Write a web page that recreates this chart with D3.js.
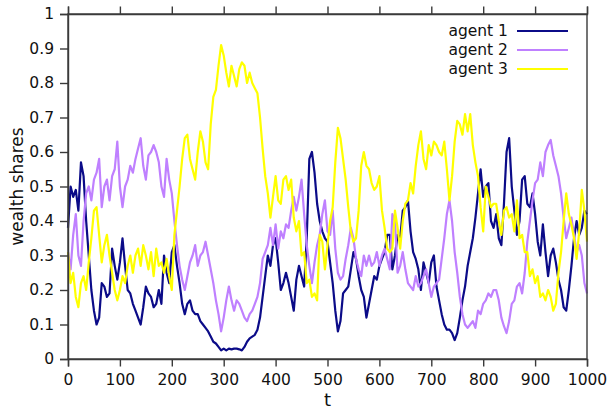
<!DOCTYPE html>
<html>
<head>
<meta charset="utf-8">
<script src="https://cdn.jsdelivr.net/npm/d3@7"></script>
<style>
  html, body { margin: 0; padding: 0; background: #fff; }
  svg { display: block; font-family: "DejaVu Sans", sans-serif; }
</style>
</head>
<body>
<svg id="chart" width="610" height="411"></svg>
<script>
// sampling step of the time axis (t = 0, 5, 10, ... 1000)
const tStep = 5;
const seriesNames = ["agent 1", "agent 2", "agent 3"];
const seriesColors = ["#0b0b88", "#bf80ff", "#ffff00"];
const xTicks = [0, 100, 200, 300, 400, 500, 600, 700, 800, 900, 1000];
const yTicks = [0, 0.1, 0.2, 0.3, 0.4, 0.5, 0.6, 0.7, 0.8, 0.9, 1];

const agent1 = [
 .38,.50,.47,.49,.43,.57,.53,.40,.30,.20, .14,.10,.12,.22,.21,.18,.19,.32,.27,.23,
 .28,.35,.27,.20,.19,.16,.14,.12,.10,.15, .21,.19,.18,.15,.16,.20,.16,.30,.25,.22,
 .31,.33,.27,.22,.16,.13,.16,.17,.14,.13, .13,.11,.10,.09,.08,.065,.05,.045,.035,.025,
 .03,.025,.03,.028,.03,.03,.028,.025,.035,.05, .06,.065,.07,.085,.12,.18,.24,.30,.27,.33,
 .35,.28,.20,.22,.25,.22,.18,.14,.23,.27, .24,.21,.35,.58,.60,.54,.45,.40,.37,.35,
 .34,.28,.22,.14,.08,.11,.19,.20,.21,.26, .31,.29,.24,.20,.18,.12,.16,.20,.24,.23,
 .27,.29,.31,.36,.36,.26,.30,.36,.35,.43, .44,.46,.37,.31,.29,.26,.20,.28,.25,.22,
 .28,.30,.21,.17,.13,.10,.085,.085,.075,.055, .075,.12,.17,.21,.27,.31,.35,.41,.48,.55,
 .47,.50,.51,.40,.38,.42,.35,.33,.45,.60, .64,.50,.43,.36,.40,.52,.53,.45,.44,.48,
 .42,.34,.30,.39,.31,.24,.30,.32,.28,.23, .20,.15,.14,.20,.27,.35,.40,.36,.38,.43,
 .42
];
const agent2 = [
 .31,.26,.36,.42,.30,.27,.40,.48,.50,.46, .52,.54,.58,.44,.50,.52,.46,.53,.55,.63,
 .50,.44,.50,.52,.56,.54,.58,.61,.64,.56, .52,.59,.60,.62,.60,.57,.50,.47,.58,.52,
 .48,.40,.33,.27,.23,.20,.24,.28,.30,.33, .27,.30,.31,.34,.30,.26,.22,.17,.13,.08,
 .12,.17,.21,.17,.14,.17,.16,.14,.12,.11, .13,.14,.16,.18,.22,.29,.31,.33,.38,.33,
 .39,.32,.37,.35,.39,.38,.43,.47,.43,.47, .52,.42,.33,.27,.22,.28,.33,.36,.42,.46,
 .37,.36,.43,.32,.25,.23,.24,.29,.33,.38, .35,.29,.26,.24,.30,.27,.30,.27,.28,.31,
 .27,.30,.32,.29,.26,.42,.40,.25,.27,.31, .26,.22,.21,.20,.24,.21,.22,.24,.26,.22,
 .18,.21,.22,.23,.29,.35,.42,.46,.40,.31, .25,.18,.13,.10,.09,.10,.11,.09,.14,.13,
 .16,.17,.19,.18,.20,.20,.17,.12,.095,.075, .11,.16,.17,.21,.22,.19,.25,.34,.40,.46,
 .51,.52,.57,.53,.60,.62,.635,.59,.56,.53, .48,.41,.35,.38,.41,.36,.31,.33,.30,.22,
 .19
];
const agent3 = [
 .31,.22,.25,.18,.15,.22,.24,.20,.28,.35, .43,.44,.36,.28,.33,.36,.30,.25,.20,.17,
 .20,.24,.22,.27,.30,.25,.30,.32,.27,.33, .30,.26,.31,.24,.32,.27,.28,.25,.29,.24,
 .20,.36,.43,.50,.58,.64,.65,.58,.55,.52, .60,.66,.63,.57,.55,.68,.76,.78,.85,.91,
 .88,.83,.79,.85,.82,.79,.84,.86,.85,.80, .83,.80,.785,.77,.70,.61,.53,.48,.41,.47,
 .53,.46,.45,.52,.53,.49,.52,.41,.37,.40, .30,.31,.22,.23,.18,.19,.17,.36,.34,.26,
 .33,.40,.44,.57,.67,.64,.58,.52,.44,.37, .34,.35,.43,.56,.60,.56,.55,.51,.49,.50,
 .53,.43,.38,.32,.31,.32,.43,.38,.32,.40, .45,.46,.51,.48,.56,.62,.66,.58,.55,.62,
 .59,.63,.62,.60,.59,.63,.55,.46,.53,.63, .69,.68,.65,.71,.66,.71,.62,.57,.53,.44,
 .37,.50,.47,.44,.45,.45,.40,.36,.43,.44, .41,.42,.37,.46,.35,.36,.31,.31,.24,.26,
 .22,.24,.18,.19,.17,.20,.18,.14,.16,.25, .31,.40,.48,.42,.39,.35,.29,.37,.49,.43,
 .34
];

const svg = d3.select("#chart");
const margin = { left: 68, right: 23, top: 14, bottom: 52 };
const W = 610, H = 411;
const x = d3.scaleLinear().domain([0, 1000]).range([margin.left, W - margin.right]);
const y = d3.scaleLinear().domain([0, 1]).range([H - margin.bottom, margin.top]);

const axisColor = "#3a3a3a";

// lines
const line = d3.line()
  .x((d, i) => x(i * tStep))
  .y(d => y(d));

const allSeries = [agent1, agent2, agent3];
svg.append("g").selectAll("path").data(allSeries).join("path")
  .attr("d", d => line(d))
  .attr("fill", "none")
  .attr("stroke", (d, i) => seriesColors[i])
  .attr("stroke-width", 2.2)
  .attr("stroke-linejoin", "round");

// frame
svg.append("rect")
  .attr("x", x(0)).attr("y", y(1))
  .attr("width", x(1000) - x(0)).attr("height", y(0) - y(1))
  .attr("fill", "none").attr("stroke", axisColor).attr("stroke-width", 1.4);

// bottom axis
const xAxis = svg.append("g")
  .attr("transform", `translate(0,${y(0)})`)
  .call(d3.axisBottom(x).tickValues(xTicks).tickSize(7.5).tickPadding(7).tickFormat(d3.format("d")));
// top ticks (outward, no labels)
const xTop = svg.append("g")
  .attr("transform", `translate(0,${y(1)})`)
  .call(d3.axisTop(x).tickValues(xTicks).tickSize(7.5).tickFormat(""));
// left axis
const yAxis = svg.append("g")
  .attr("transform", `translate(${x(0)},0)`)
  .call(d3.axisLeft(y).tickValues(yTicks).tickSize(8).tickPadding(6).tickFormat(d => d3.format("")(+d.toFixed(1))));

[xAxis, xTop, yAxis].forEach(g => {
  g.select(".domain").attr("stroke", axisColor).attr("stroke-width", 1.4);
  g.selectAll(".tick line").attr("stroke", axisColor).attr("stroke-width", 1.4);
  g.selectAll(".tick text").attr("fill", "#111").attr("font-size", 15.5)
    .attr("font-family", "DejaVu Sans, sans-serif");
});

// axis titles
svg.append("text")
  .attr("x", (x(0) + x(1000)) / 2).attr("y", 406)
  .attr("text-anchor", "middle")
  .attr("font-size", 18).attr("fill", "#111")
  .text("t");
svg.append("text")
  .attr("transform", `translate(23,${(y(0) + y(1)) / 2}) rotate(-90)`)
  .attr("text-anchor", "middle")
  .attr("font-size", 17).attr("fill", "#111")
  .text("wealth shares");

// legend
const legend = svg.append("g");
seriesNames.forEach((name, i) => {
  const cy = 31 + i * 19;
  legend.append("text")
    .attr("x", 508).attr("y", cy).attr("dy", "0.35em")
    .attr("text-anchor", "end").attr("font-size", 15.5).attr("fill", "#111")
    .text(name);
  legend.append("line")
    .attr("x1", 517).attr("x2", 568).attr("y1", cy).attr("y2", cy)
    .attr("stroke", seriesColors[i]).attr("stroke-width", 2.2);
});
</script>
</body>
</html>
